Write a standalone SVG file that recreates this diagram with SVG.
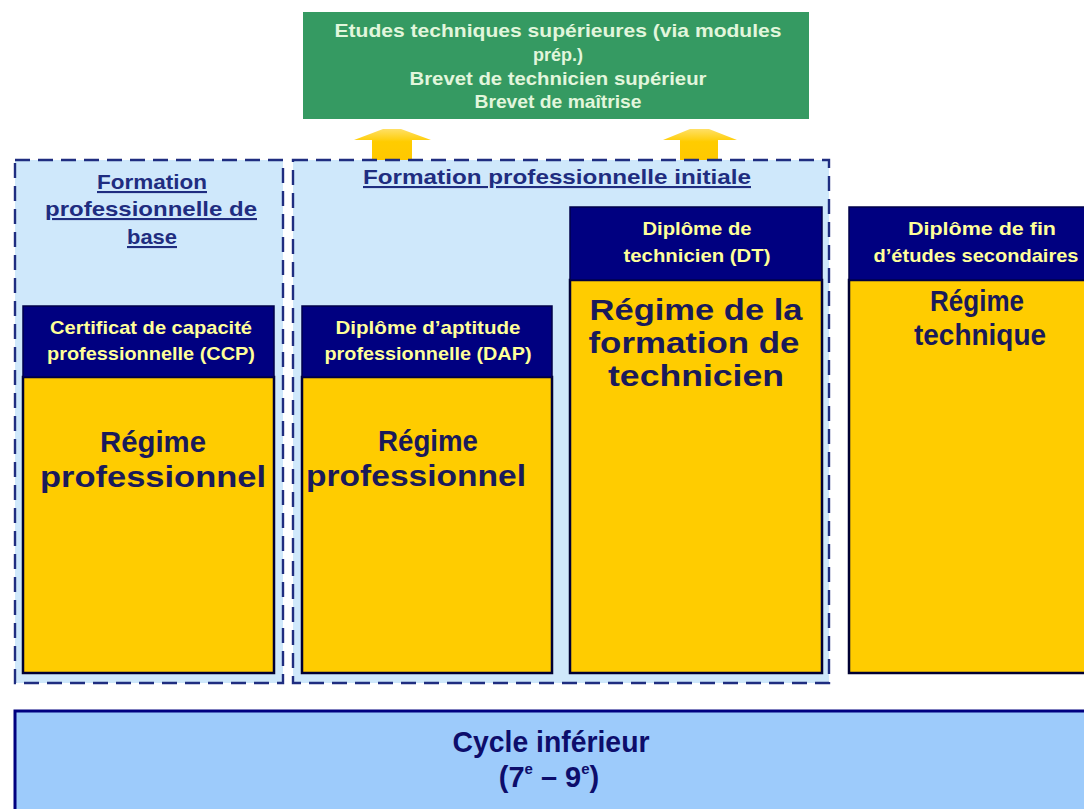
<svg xmlns="http://www.w3.org/2000/svg" width="1084" height="809" viewBox="0 0 1084 809">
<defs>
<style>
text{font-family:"Liberation Sans",Arial,sans-serif;font-weight:bold;text-anchor:middle}
.grp{fill:#cfe8fb;stroke:#1f2d80;stroke-width:2.4;stroke-dasharray:15 8}
.hdr{fill:#000080;stroke:#00004a;stroke-width:1.5}
.body{fill:#ffcc00;stroke:#000033;stroke-width:2.5}
.ht{fill:#ffff99;font-size:19px}
.big{fill:#1a1a5a;font-size:30px}
.ttl{fill:#1f2d80;font-size:21px;text-decoration:underline}
.gt{fill:#e2f6dc;font-size:19px}
.arr{fill:url(#ag)}
</style>
<linearGradient id="ag" x1="0" y1="0" x2="0" y2="1">
<stop offset="0" stop-color="#ffe066"/>
<stop offset="0.4" stop-color="#ffcc00"/>
<stop offset="1" stop-color="#ffc800"/>
</linearGradient>
</defs>
<rect width="1084" height="809" fill="#ffffff"/>

<g id="superieur">
<rect x="303" y="12" width="506" height="107" fill="#359a62"/>
<text class="gt" x="558" y="37" textLength="447" lengthAdjust="spacingAndGlyphs">Etudes techniques supérieures (via modules</text>
<text class="gt" x="558" y="61" textLength="50" lengthAdjust="spacingAndGlyphs">prép.)</text>
<text class="gt" x="558" y="85" textLength="297" lengthAdjust="spacingAndGlyphs">Brevet de technicien supérieur</text>
<text class="gt" x="558" y="108" textLength="167" lengthAdjust="spacingAndGlyphs">Brevet de maîtrise</text>
</g>

<g id="connectors">
<polygon class="arr" points="372,161 372,140 354,140 383,129 401,129 431,140 412,140 412,161"/>
<polygon class="arr" points="680,161 680,140 663,140 690,129 709,129 737,140 718,140 718,161"/>
</g>

<g id="formation-base">
<rect class="grp" x="15" y="160" width="268" height="523"/>
<text class="ttl" x="152" y="189" textLength="110" lengthAdjust="spacingAndGlyphs">Formation</text>
<text class="ttl" x="151" y="216" textLength="212" lengthAdjust="spacingAndGlyphs">professionnelle  de</text>
<text class="ttl" x="152" y="244" textLength="50" lengthAdjust="spacingAndGlyphs">base</text>
</g>

<g id="formation-initiale">
<rect class="grp" x="293" y="160" width="536" height="523"/>
<text class="ttl" x="557" y="184" textLength="388" lengthAdjust="spacingAndGlyphs">Formation  professionnelle  initiale</text>
</g>

<g id="ccp">
<rect class="body" x="23" y="377" width="251" height="296"/>
<rect class="hdr" x="23" y="306" width="251" height="71"/>
<text class="ht" x="151" y="334" textLength="202" lengthAdjust="spacingAndGlyphs">Certificat de capacité</text>
<text class="ht" x="151" y="360" textLength="208" lengthAdjust="spacingAndGlyphs">professionnelle  (CCP)</text>
<text class="big" x="153" y="452" textLength="106" lengthAdjust="spacingAndGlyphs">Régime</text>
<text class="big" x="153" y="487" textLength="226" lengthAdjust="spacingAndGlyphs">professionnel</text>
</g>

<g id="dap">
<rect class="body" x="302" y="377" width="250" height="296"/>
<rect class="hdr" x="302" y="306" width="250" height="71"/>
<text class="ht" x="428" y="334" textLength="185" lengthAdjust="spacingAndGlyphs">Diplôme d’aptitude</text>
<text class="ht" x="428" y="360" textLength="207" lengthAdjust="spacingAndGlyphs">professionnelle  (DAP)</text>
<text class="big" x="428" y="451" textLength="100" lengthAdjust="spacingAndGlyphs">Régime</text>
<text class="big" x="416" y="486" textLength="220" lengthAdjust="spacingAndGlyphs">professionnel</text>
</g>

<g id="dt">
<rect class="body" x="570" y="280" width="252" height="393"/>
<rect class="hdr" x="570" y="207" width="252" height="73"/>
<text class="ht" x="697" y="235" textLength="109" lengthAdjust="spacingAndGlyphs">Diplôme de</text>
<text class="ht" x="697" y="262" textLength="147" lengthAdjust="spacingAndGlyphs">technicien (DT)</text>
<text class="big" x="696" y="320" textLength="213" lengthAdjust="spacingAndGlyphs">Régime de la</text>
<text class="big" x="694" y="353" textLength="211" lengthAdjust="spacingAndGlyphs">formation de</text>
<text class="big" x="696" y="386" textLength="176" lengthAdjust="spacingAndGlyphs">technicien</text>
</g>

<g id="technique">
<rect class="body" x="849" y="280" width="260" height="393"/>
<rect class="hdr" x="849" y="207" width="260" height="73"/>
<text class="ht" x="982" y="235" textLength="148" lengthAdjust="spacingAndGlyphs">Diplôme de fin</text>
<text class="ht" x="976" y="262" textLength="205" lengthAdjust="spacingAndGlyphs">d’études secondaires</text>
<text class="big" x="977" y="311" font-size="28" textLength="94" lengthAdjust="spacingAndGlyphs">Régime</text>
<text class="big" x="980" y="345" font-size="28" textLength="132" lengthAdjust="spacingAndGlyphs">technique</text>
</g>

<g id="cycle-inferieur">
<rect x="15" y="711" width="1090" height="110" fill="#9dcbfb" stroke="#000080" stroke-width="3"/>
<text x="551" y="752" font-size="30" fill="#0d0d6b" textLength="197" lengthAdjust="spacingAndGlyphs">Cycle inférieur</text>
<text x="549" y="787" font-size="29" fill="#0d0d6b">(7<tspan font-size="15" dy="-13">e</tspan><tspan dy="13"> – 9</tspan><tspan font-size="15" dy="-13">e</tspan><tspan dy="13">)</tspan></text>
</g>
</svg>
